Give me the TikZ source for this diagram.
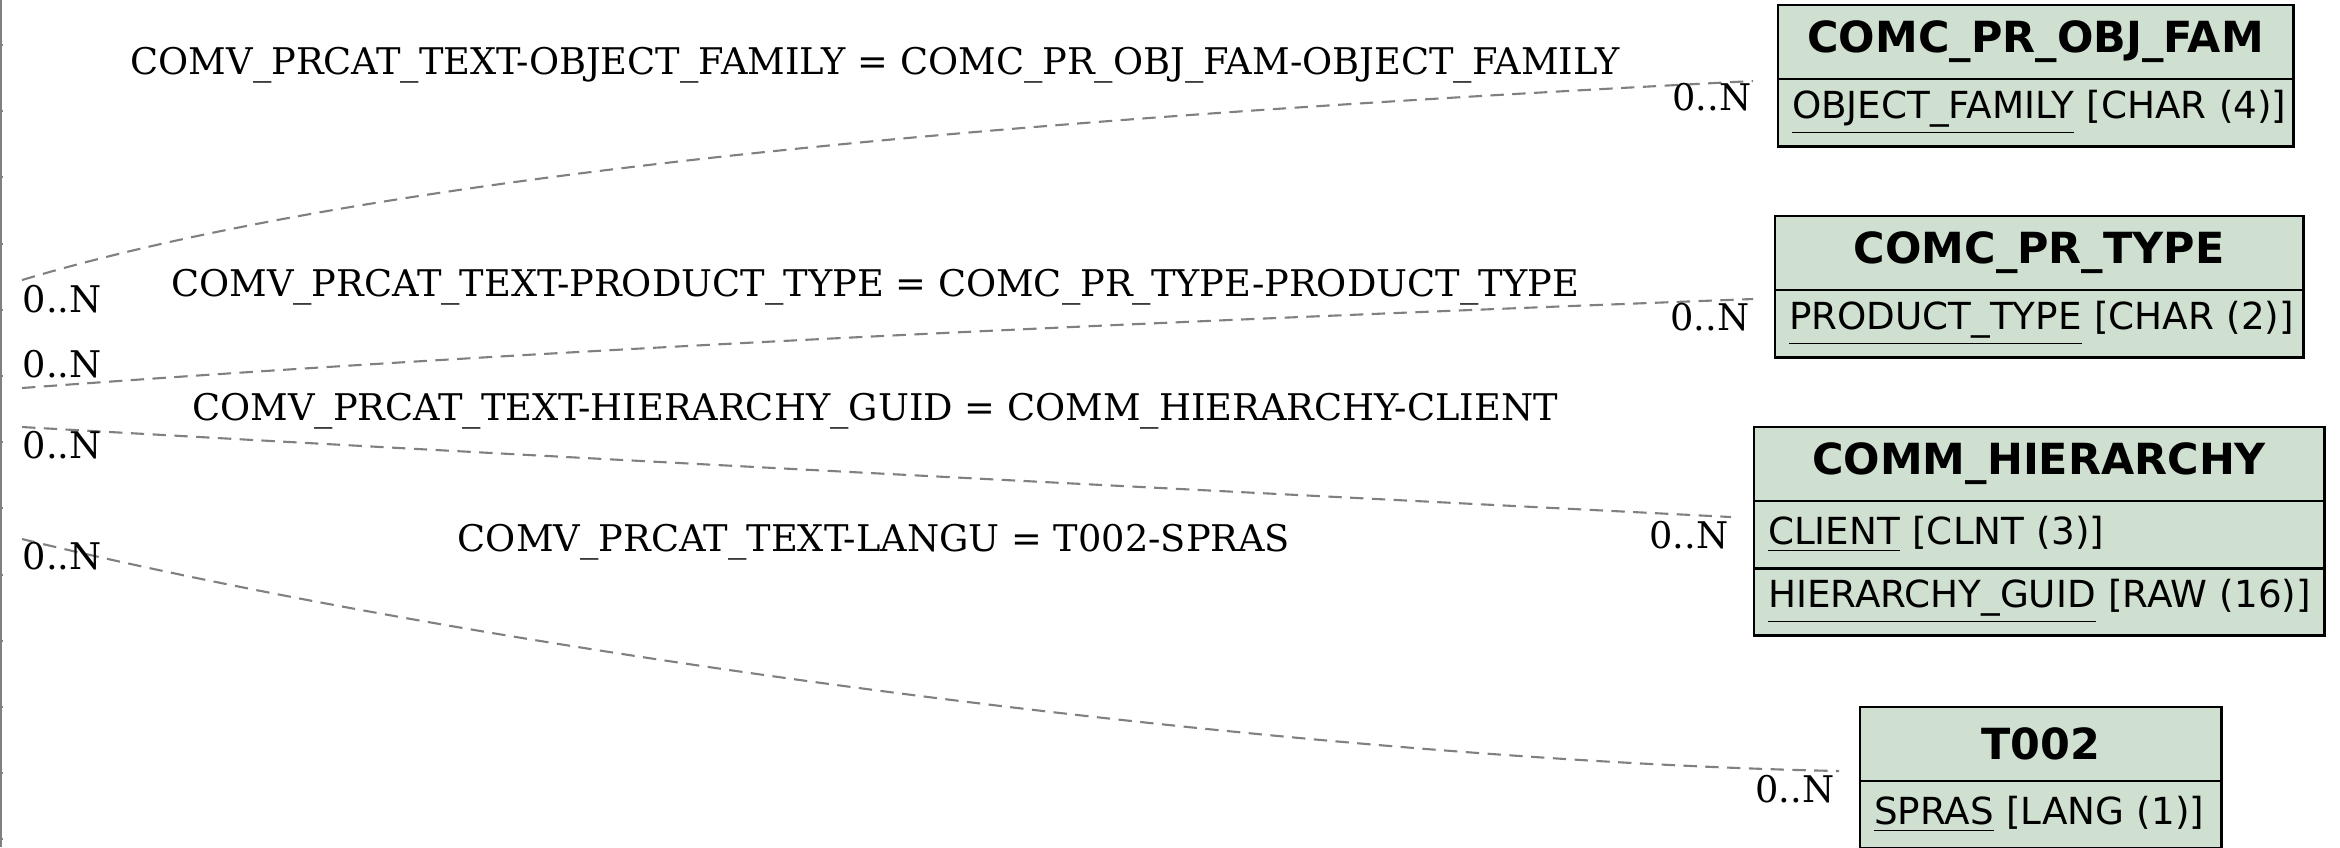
\documentclass[tikz,border=0pt]{standalone}
\usepackage{fontspec}
\setmainfont{DejaVu Serif}
\setsansfont{DejaVu Sans}
\usetikzlibrary{positioning}
\definecolor{tblgreen}{RGB}{208,224,208}
\definecolor{linkgray}{RGB}{128,128,128}
\tikzset{
  tblhead/.style={draw,fill=tblgreen,line width=0.8pt,outer sep=0pt,font=\sffamily\bfseries\fontsize{12.2}{14}\selectfont,minimum height=0.74cm,inner sep=0pt},
  tblfield/.style={draw,fill=tblgreen,line width=0.8pt,outer sep=0pt,font=\sffamily\fontsize{10.6}{13}\selectfont,minimum height=0.67cm,inner xsep=0.14cm,inner ysep=0pt,align=left},
  linklabel/.style={font=\fontsize{10.45}{12}\selectfont,inner sep=0pt},
  link/.style={dashed,dash pattern=on 3.8pt off 2.4pt,linkgray,line width=0.6pt}
}
\begin{document}
\begin{tikzpicture}[x=0.01cm,y=-0.01cm]
    \useasboundingbox (0,0) rectangle (2340,847);
    %% Cut-off source table
    \draw[linkgray,line width=0.7pt] (1,0) -- (1,847);
    \foreach \ty in {45,111,177,244,310,376,442,508,575,641,707,773,839}
        \draw[linkgray,line width=0.7pt] (0,\ty) -- (3,\ty);
    %% Tables
    \node[tblhead,minimum width=5.15cm,anchor=north west] (objfam) at (1778,5) {COMC\_PR\_OBJ\_FAM};
    \node[tblfield,text width=4.87cm,below=0pt of objfam] (objfam-f1) {\mbox{\underline{OBJECT\_FAMILY} [CHAR (4)]}};
    \node[tblhead,minimum width=5.28cm,anchor=north west] (prtype) at (1775,216) {COMC\_PR\_TYPE};
    \node[tblfield,text width=5.00cm,below=0pt of prtype] (prtype-f1) {\mbox{\underline{PRODUCT\_TYPE} [CHAR (2)]}};
    \node[tblhead,minimum width=5.70cm,anchor=north west] (hier) at (1754,427) {COMM\_HIERARCHY};
    \node[tblfield,text width=5.42cm,below=0pt of hier] (hier-f1) {\mbox{\underline{CLIENT} [CLNT (3)]}};
    \node[tblfield,text width=5.42cm,below=0pt of hier-f1] (hier-f2) {\mbox{\underline{HIERARCHY\_GUID} [RAW (16)]}};
    \node[tblhead,minimum width=3.61cm,anchor=north west] (tzz) at (1860,707) {T002};
    \node[tblfield,text width=3.33cm,below=0pt of tzz] (tzz-f1) {\mbox{\underline{SPRAS} [LANG (1)]}};
    %% Link ends
    \coordinate (src1) at (22,280);
    \coordinate (src2) at (22,388);
    \coordinate (src3) at (22,427);
    \coordinate (src4) at (22,539);
    \coordinate (objfam-in) at (1753,81);
    \coordinate (prtype-in) at (1753,299);
    \coordinate (hier-in) at (1731,517);
    \coordinate (tzz-in) at (1839,771);
    %% Links
    \draw[link] (src1) .. controls (422,160) and (1153,112) .. (objfam-in);
    \draw[link] (src2) .. controls (600,345) and (1200,320) .. (prtype-in);
    \draw[link] (src3) .. controls (600,460) and (1200,490) .. (hier-in);
    \draw[link] (src4) .. controls (500,655) and (1300,760) .. (tzz-in);
    %% Labels
    \node[linklabel] (lbl1) at (875,65) {COMV\_PRCAT\_TEXT-OBJECT\_FAMILY = COMC\_PR\_OBJ\_FAM-OBJECT\_FAMILY};
    \node[linklabel] (lbl2) at (875,287) {COMV\_PRCAT\_TEXT-PRODUCT\_TYPE = COMC\_PR\_TYPE-PRODUCT\_TYPE};
    \node[linklabel] (lbl3) at (875,411) {COMV\_PRCAT\_TEXT-HIERARCHY\_GUID = COMM\_HIERARCHY-CLIENT};
    \node[linklabel] (lbl4) at (874,542) {COMV\_PRCAT\_TEXT-LANGU = T002-SPRAS};
    \node[linklabel,anchor=west] (src1-card) at (22,299) {0..N};
    \node[linklabel,anchor=west] (src2-card) at (22,364) {0..N};
    \node[linklabel,anchor=west] (src3-card) at (22,445) {0..N};
    \node[linklabel,anchor=west] (src4-card) at (22,556) {0..N};
    \node[linklabel,anchor=east] (objfam-card) at (1752,97) {0..N};
    \node[linklabel,anchor=east] (prtype-card) at (1750,317) {0..N};
    \node[linklabel,anchor=east] (hier-card) at (1729,535) {0..N};
    \node[linklabel,anchor=east] (tzz-card) at (1835,789) {0..N};
\end{tikzpicture}
\end{document}
